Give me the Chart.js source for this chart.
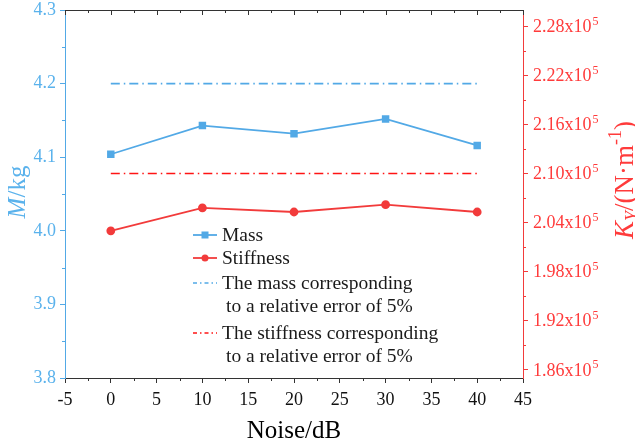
<!DOCTYPE html>
<html>
<head>
<meta charset="utf-8">
<script src="https://cdn.jsdelivr.net/npm/chart.js@4/dist/chart.umd.min.js"></script>
<style>
  html, body { margin: 0; padding: 0; background: #fff; }
  #wrap { width: 635px; height: 441px; }
</style>
</head>
<body>
<div id="wrap"><canvas id="chart"></canvas></div>
<script>
// data
var noise = [0, 10, 20, 30, 40];
var mass = [4.104, 4.143, 4.132, 4.152, 4.116];
var stiffness = [2.030e5, 2.058e5, 2.053e5, 2.062e5, 2.053e5];
var limitX = [0, 40];
var massLimit = [4.2, 4.2];
var stiffLimit = [2.10e5, 2.10e5];

var xTicks = [-5, 0, 5, 10, 15, 20, 25, 30, 35, 40, 45];
var massTicks = [3.8, 3.9, 4.0, 4.1, 4.2, 4.3];
var stiffTicks = [1.86e5, 1.92e5, 1.98e5, 2.04e5, 2.10e5, 2.16e5, 2.22e5, 2.28e5];

var BLUE = '#52a9e6';
var BLUE_TXT = '#5ab2ec';
var RED = '#f23b3b';
var RED_TXT = '#ff3b3b';
var RED_REF = '#ff1414';
var AXIS = '#333333';
var SERIF = "'Liberation Serif', 'Times New Roman', serif";
var DASH = [9, 4, 1.5, 4];

function pts(xs, ys) {
  return xs.map(function (x, i) { return { x: x, y: ys[i] }; });
}

// minor ticks, top border, right labels, titles and legend
var decor = {
  id: 'decor',
  afterDraw: function (chart) {
    var ctx = chart.ctx;
    var a = chart.chartArea;
    var sx = chart.scales.x, sy = chart.scales.y, sk = chart.scales.y1;
    ctx.save();

    // top border with inward ticks, bottom minor ticks
    ctx.strokeStyle = AXIS;
    ctx.lineWidth = 1;
    ctx.beginPath();
    ctx.moveTo(a.left, a.top + 0.5);
    ctx.lineTo(a.right, a.top + 0.5);
    xTicks.forEach(function (v, i) {
      var px = Math.round(sx.getPixelForValue(v)) + 0.5;
      ctx.moveTo(px, a.top); ctx.lineTo(px, a.top + 5);
      if (i < xTicks.length - 1) {
        var pm = Math.round(sx.getPixelForValue(v + 2.5)) + 0.5;
        ctx.moveTo(pm, a.top); ctx.lineTo(pm, a.top + 3);
        ctx.moveTo(pm, a.bottom); ctx.lineTo(pm, a.bottom + 3);
      }
    });
    ctx.stroke();

    // left minor ticks
    ctx.strokeStyle = BLUE;
    ctx.beginPath();
    for (var i = 0; i < massTicks.length - 1; i++) {
      var py = Math.round(sy.getPixelForValue(massTicks[i] + 0.05)) + 0.5;
      ctx.moveTo(a.left, py); ctx.lineTo(a.left - 3, py);
    }
    ctx.stroke();

    // right minor ticks
    ctx.strokeStyle = RED;
    ctx.beginPath();
    for (var j = 0; j < stiffTicks.length - 1; j++) {
      var pr = Math.round(sk.getPixelForValue(stiffTicks[j] + 0.03e5)) + 0.5;
      ctx.moveTo(a.right, pr); ctx.lineTo(a.right + 3, pr);
    }
    ctx.stroke();

    // right tick labels  a.bcx10^5
    ctx.fillStyle = RED_TXT;
    ctx.textBaseline = 'middle';
    ctx.textAlign = 'left';
    stiffTicks.forEach(function (v) {
      var py = sk.getPixelForValue(v);
      var base = (v / 1e5).toFixed(2) + 'x10';
      ctx.font = '18px ' + SERIF;
      ctx.fillText(base, a.right + 10, py + 1);
      var w = ctx.measureText(base).width;
      ctx.font = '12px ' + SERIF;
      ctx.fillText('5', a.right + 10 + w + 1, py - 5);
    });

    // runs of text with mixed styles
    function runs(parts, cx, cy, rot) {
      ctx.save();
      ctx.translate(cx, cy);
      if (rot) ctx.rotate(rot);
      ctx.textAlign = 'left';
      ctx.textBaseline = 'alphabetic';
      var total = 0;
      parts.forEach(function (p) { ctx.font = p.f; p.w = ctx.measureText(p.t).width; total += p.w; });
      var x = -total / 2;
      parts.forEach(function (p) {
        ctx.font = p.f;
        ctx.fillStyle = p.c;
        ctx.fillText(p.t, x, 8 + (p.dy || 0));
        x += p.w;
      });
      ctx.restore();
    }

    runs([
      { t: 'M', f: 'italic 25px ' + SERIF, c: BLUE_TXT },
      { t: '/kg', f: '25px ' + SERIF, c: BLUE_TXT }
    ], 17, 192, -Math.PI / 2);

    runs([
      { t: 'K', f: 'italic 27px ' + SERIF, c: RED_TXT },
      { t: 'Y', f: 'italic 18px ' + SERIF, c: RED_TXT, dy: 5 },
      { t: '/(N\u00b7m', f: '27px ' + SERIF, c: RED_TXT },
      { t: '-1', f: '18px ' + SERIF, c: RED_TXT, dy: -12 },
      { t: ')', f: '27px ' + SERIF, c: RED_TXT }
    ], 625, 180, -Math.PI / 2);

    runs([
      { t: 'Noise/dB', f: '25px ' + SERIF, c: '#000' }
    ], (a.left + a.right) / 2, 430, 0);

    // legend
    var rows = [
      { ds: 0, y: 235, lines: ['Mass'] },
      { ds: 1, y: 258, lines: ['Stiffness'] },
      { ds: 2, y: 283, lines: ['The mass corresponding', 'to a relative error of 5%'] },
      { ds: 3, y: 333, lines: ['The stiffness corresponding', 'to a relative error of 5%'] }
    ];
    var lx0 = 193, lx1 = 217, tx = 222;
    rows.forEach(function (r) {
      var d = chart.data.datasets[r.ds];
      ctx.strokeStyle = d.borderColor;
      ctx.lineWidth = d.borderWidth;
      ctx.setLineDash(d.borderDash ? [4, 3, 1.5, 3] : []);
      ctx.beginPath();
      ctx.moveTo(lx0, r.y); ctx.lineTo(lx1, r.y);
      ctx.stroke();
      ctx.setLineDash([]);
      if (d.pointRadius) {
        ctx.fillStyle = d.pointBackgroundColor;
        if (d.pointStyle === 'rect') {
          ctx.fillRect((lx0 + lx1) / 2 - 3.5, r.y - 3.5, 7, 7);
        } else {
          ctx.beginPath();
          ctx.arc((lx0 + lx1) / 2, r.y, 3.5, 0, Math.PI * 2);
          ctx.fill();
        }
      }
      ctx.fillStyle = '#1a1a1a';
      ctx.font = '19.5px ' + SERIF;
      ctx.textAlign = 'left';
      ctx.textBaseline = 'middle';
      r.lines.forEach(function (t, k) {
        ctx.fillText(t, k ? tx + 4 : tx, r.y + 1 + k * 23);
      });
    });

    ctx.restore();
  }
};

function noPad(s) {
  s.paddingTop = 0;
  s.paddingBottom = 0;
}

new Chart(document.getElementById('chart'), {
  type: 'line',
  data: {
    datasets: [
      {
        label: 'Mass',
        data: pts(noise, mass),
        yAxisID: 'y',
        borderColor: BLUE,
        backgroundColor: BLUE,
        pointBackgroundColor: BLUE,
        pointBorderColor: BLUE,
        pointStyle: 'rect',
        pointRadius: 4,
        borderWidth: 1.8
      },
      {
        label: 'Stiffness',
        data: pts(noise, stiffness),
        yAxisID: 'y1',
        borderColor: RED,
        backgroundColor: RED,
        pointBackgroundColor: RED,
        pointBorderColor: RED,
        pointStyle: 'circle',
        pointRadius: 3.5,
        borderWidth: 1.8
      },
      {
        label: 'The mass corresponding to a relative error of 5%',
        data: pts(limitX, massLimit),
        yAxisID: 'y',
        borderColor: BLUE,
        borderDash: DASH,
        borderWidth: 1.6,
        pointRadius: 0
      },
      {
        label: 'The stiffness corresponding to a relative error of 5%',
        data: pts(limitX, stiffLimit),
        yAxisID: 'y1',
        borderColor: RED_REF,
        borderDash: DASH,
        borderWidth: 1.6,
        pointRadius: 0
      }
    ]
  },
  options: {
    responsive: true,
    maintainAspectRatio: false,
    animation: false,
    layout: { padding: { top: 10, left: 0, right: 0, bottom: 0 } },
    plugins: { legend: { display: false }, tooltip: { enabled: false } },
    scales: {
      x: {
        type: 'linear',
        min: -5,
        max: 45,
        afterBuildTicks: function (s) { s.ticks = xTicks.map(function (v) { return { value: v }; }); },
        afterFit: function (s) { s.height = 63; s.paddingLeft = 0; s.paddingRight = 0; },
        ticks: { color: '#111', font: { family: SERIF, size: 18 }, maxRotation: 0, autoSkip: false, padding: 6 },
        grid: { drawOnChartArea: false, tickLength: 5, color: AXIS },
        border: { color: AXIS }
      },
      y: {
        position: 'left',
        min: 3.8,
        max: 4.3,
        afterBuildTicks: function (s) { s.ticks = massTicks.map(function (v) { return { value: v }; }); },
        afterFit: function (s) { s.width = 65; noPad(s); },
        ticks: {
          color: BLUE_TXT,
          font: { family: SERIF, size: 18 },
          padding: 4,
          callback: function (v) { return Number(v).toFixed(1); }
        },
        grid: { drawOnChartArea: false, tickLength: 5, color: BLUE },
        border: { color: BLUE }
      },
      y1: {
        position: 'right',
        min: 1.85e5,
        max: 2.30e5,
        afterBuildTicks: function (s) { s.ticks = stiffTicks.map(function (v) { return { value: v }; }); },
        afterFit: function (s) { s.width = 112; noPad(s); },
        ticks: { display: false },
        grid: { drawOnChartArea: false, tickLength: 5, color: RED },
        border: { color: RED }
      }
    }
  },
  plugins: [decor]
});
</script>
</body>
</html>
